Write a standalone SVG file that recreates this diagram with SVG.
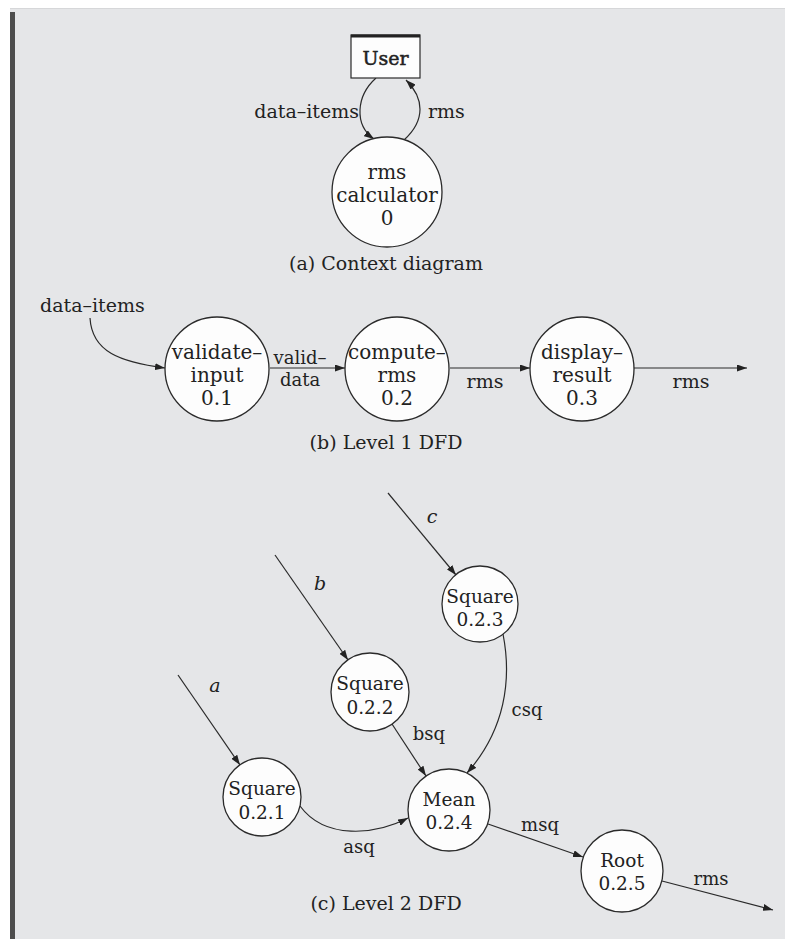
<svg xmlns="http://www.w3.org/2000/svg" width="785" height="939" viewBox="0 0 785 939">
<defs>
<marker id="arr" markerWidth="10" markerHeight="7" refX="10" refY="3.5" orient="auto" markerUnits="userSpaceOnUse">
<path d="M0,0 L10,3.5 L0,7 z" fill="#222"/>
</marker>
<style>
.bub{fill:#fdfdfd;stroke:#2a2a2a;stroke-width:1.3}
.box{fill:#fdfdfd;stroke:#2a2a2a;stroke-width:1.2}
.t{font-family:"DejaVu Serif","Liberation Serif",serif;fill:#222;text-anchor:middle}
.n1{font-size:20px}
.n2{font-size:18.5px}
.lb{font-size:19px}
.ls{font-size:18px}
.it{font-style:italic}
.c{fill:none;stroke:#2a2a2a;stroke-width:1.2;marker-end:url(#arr)}
</style>
</defs>
<rect x="0" y="0" width="785" height="939" fill="#ffffff"/>
<rect x="10" y="8" width="775" height="931" fill="#e5e6e8"/>
<line x1="10" y1="8.5" x2="785" y2="8.5" stroke="#d6d7d9" stroke-width="1"/>
<rect x="10" y="12" width="5" height="927" fill="#4d4d4d"/>

<g id="connectors">
<path class="c" d="M376,78 C356,96 354,125 374,139"/>
<path class="c" d="M404,140 C426,120 424,98 406,80"/>
<path class="c" d="M90,318 C92,352 120,362 165,368"/>
<path class="c" d="M270,368 L345,368"/>
<path class="c" d="M450,368 L530,368"/>
<path class="c" d="M634,368 L747,368"/>
<path class="c" d="M178,675 L240,765"/>
<path class="c" d="M275,555 L348,660"/>
<path class="c" d="M388,493 L456,575"/>
<path class="c" d="M392,724 L426,776"/>
<path class="c" d="M503,634 C512,680 505,730 467,773"/>
<path class="c" d="M300,806 C325,840 375,835 408,818"/>
<path class="c" d="M488,824 L583,857"/>
<path class="c" d="M662,881 L773,910"/>
</g>

<g id="labels">
<text class="t lb" x="359" y="118" style="text-anchor:end">data–items</text>
<text class="t lb" x="428" y="118" style="text-anchor:start">rms</text>
<text class="t lb" x="40" y="312" style="text-anchor:start">data–items</text>
<text class="t ls" x="300" y="364">valid–</text>
<text class="t ls" x="300" y="386">data</text>
<text class="t lb" x="485" y="388">rms</text>
<text class="t lb" x="691" y="388">rms</text>
<text class="t lb it" x="215" y="692">a</text>
<text class="t lb it" x="320" y="590">b</text>
<text class="t lb it" x="432" y="523">c</text>
<text class="t ls" x="429" y="740">bsq</text>
<text class="t ls" x="527" y="716">csq</text>
<text class="t ls" x="359" y="853">asq</text>
<text class="t ls" x="540" y="831">msq</text>
<text class="t ls" x="711" y="885">rms</text>
<text class="t lb" x="386" y="270">(a) Context diagram</text>
<text class="t lb" x="386" y="449">(b) Level 1 DFD</text>
<text class="t lb" x="386" y="910">(c) Level 2 DFD</text>
</g>

<g id="user">
<rect class="box" x="351" y="35" width="69" height="43"/>
<line x1="351" y1="36" x2="420" y2="36" stroke="#222" stroke-width="3"/>
<text class="t" x="385.5" y="65" style="font-size:19px;stroke:#222;stroke-width:0.5">User</text>
</g>

<g id="rms-calculator">
<circle class="bub" cx="387" cy="192" r="55"/>
<text class="t n1" x="387" y="179">rms</text>
<text class="t n1" x="387" y="202">calculator</text>
<text class="t n1" x="387" y="225">0</text>
</g>

<g id="validate-input">
<circle class="bub" cx="217" cy="369" r="52"/>
<text class="t n1" x="217" y="359">validate–</text>
<text class="t n1" x="217" y="382">input</text>
<text class="t n1" x="217" y="405">0.1</text>
</g>

<g id="compute-rms">
<circle class="bub" cx="397" cy="369" r="52"/>
<text class="t n1" x="397" y="359">compute–</text>
<text class="t n1" x="397" y="382">rms</text>
<text class="t n1" x="397" y="405">0.2</text>
</g>

<g id="display-result">
<circle class="bub" cx="582" cy="369" r="52"/>
<text class="t n1" x="582" y="359">display–</text>
<text class="t n1" x="582" y="382">result</text>
<text class="t n1" x="582" y="405">0.3</text>
</g>

<g id="square-021">
<circle class="bub" cx="262" cy="797" r="39"/>
<text class="t n2" x="262" y="795">Square</text>
<text class="t n2" x="262" y="819">0.2.1</text>
</g>

<g id="square-022">
<circle class="bub" cx="370" cy="692" r="39"/>
<text class="t n2" x="370" y="690">Square</text>
<text class="t n2" x="370" y="714">0.2.2</text>
</g>

<g id="square-023">
<circle class="bub" cx="480" cy="604" r="38"/>
<text class="t n2" x="480" y="603">Square</text>
<text class="t n2" x="480" y="626">0.2.3</text>
</g>

<g id="mean">
<circle class="bub" cx="449" cy="810" r="41"/>
<text class="t n2" x="449" y="806">Mean</text>
<text class="t n2" x="449" y="829">0.2.4</text>
</g>

<g id="root">
<circle class="bub" cx="622" cy="871" r="41"/>
<text class="t n2" x="622" y="867">Root</text>
<text class="t n2" x="622" y="890">0.2.5</text>
</g>
</svg>
